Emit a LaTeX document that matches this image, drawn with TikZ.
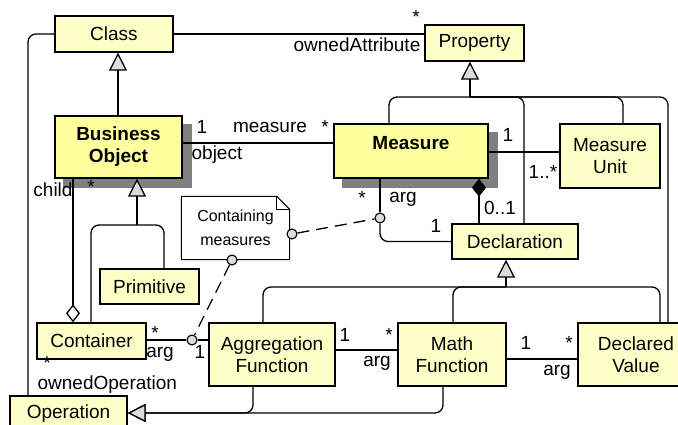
\documentclass[tikz,border=0pt]{standalone}
\usepackage{fontspec}
\setmainfont{Liberation Sans}
\usetikzlibrary{arrows.meta,calc,backgrounds}
\definecolor{clsfill}{RGB}{255,255,200}
\definecolor{keyfill}{RGB}{255,255,160}
\definecolor{shadowgray}{RGB}{128,128,128}
\definecolor{tipgray}{RGB}{220,220,220}
\begin{document}
\begin{tikzpicture}[x=1pt,y=-1pt,line width=1.3pt,
  txt/.style={font=\fontsize{19}{22}\selectfont},
  cls/.style={draw, fill=clsfill, inner sep=0pt, align=center, txt},
  keycls/.style={cls, fill=keyfill, font=\bfseries\fontsize{19}{22}\selectfont},
  notebox/.style={inner sep=0pt, align=center, font=\fontsize{16}{24}\selectfont},
  gen/.style={-{Triangle[length=18pt,width=18pt,fill=tipgray]}},
  comp/.style={-{Diamond[length=18pt,width=14pt,fill=black]}},
  agg/.style={-{Diamond[length=18pt,width=14pt,fill=white]}},
  port/.style={circle, draw, fill=tipgray, minimum size=10pt, inner sep=0pt, line width=1.1pt},
  lbl/.style={inner sep=0pt, txt},
  rc/.style={rounded corners=8pt},
  dsh/.style={dash pattern=on 12pt off 7pt}]
\useasboundingbox (0,0) rectangle (678,425);
% classes
\node[cls, minimum width=118pt, minimum height=36pt] (Class) at (114,34) {Class};
\node[cls, minimum width=99pt, minimum height=36pt] (Prop) at (474.5,43) {Property};
\node[keycls, minimum width=127pt, minimum height=62pt] (BO) at (118.5,147) {Business\\Object};
\node[keycls, minimum width=154pt, minimum height=54pt, text height=14pt, text depth=16pt] (M) at (411,151) {Measure};
\node[cls, minimum width=100pt, minimum height=64pt] (MU) at (610,156) {Measure\\Unit};
\node[cls, minimum width=126pt, minimum height=35pt] (D) at (515,241.5) {Declaration};
\node[notebox, minimum width=107pt, minimum height=62pt] (N) at (235.5,228) {Containing\\measures};
\node[cls, minimum width=99pt, minimum height=35pt] (Prim) at (149.5,286.5) {Primitive};
\node[cls, minimum width=109pt, minimum height=36pt] (Cont) at (91.5,341) {Container};
\node[cls, minimum width=126pt, minimum height=63pt] (AF) at (272,354.5) {Aggregation\\Function};
\node[cls, minimum width=108pt, minimum height=63pt] (MF) at (452,354.5) {Math\\Function};
\node[cls, minimum width=116pt, minimum height=63pt] (DV) at (636,354.5) {Declared\\Value};
\node[cls, minimum width=117pt, minimum height=35pt] (Op) at (68.5,413.5) {Operation};
% note outline
\draw[line width=1.1pt] (N.north west) -- ($(N.north east)+(-13,0)$) -- ($(N.north east)+(0,13)$) -- (N.south east) -- (N.south west) -- cycle;
\draw[line width=1.1pt] ($(N.north east)+(-13,0)$) -- ($(N.north east)+(-13,13)$) -- ($(N.north east)+(0,13)$);
% shadows and background
\begin{scope}[on background layer]
\fill[white] (0,0) rectangle (678,425);
\fill[shadowgray] ($(BO.north west)+(9,9)$) rectangle ($(BO.south east)+(9,9)$);
\fill[shadowgray] ($(M.north west)+(9,9)$) rectangle ($(M.south east)+(9,9)$);
\end{scope}
% ports
\node[port] (p1) at (380,218) {};
\node[port] (p2) at (292,234) {};
\node[port] (p3) at (232,260) {};
\node[port] (p4) at (192,340) {};
% Class - Property
\draw (Class.east) -- (Class.east -| Prop.west);
\node[lbl, anchor=east] (lOA) at (421,45) {ownedAttribute};
\node[lbl] (lOAs) at (416,17) {*};
% Class generalization
\draw[gen] (BO.north -| 118,0) -- (Class.south -| 118,0);
% Class - Operation
\draw[rc] (Class.west) -| (Op.north -| 28,0);
\node[lbl] (lOOs) at (47,363) {*};
\node[lbl, anchor=west] (lOO) at (37,385) {ownedOperation};
% BO - Measure
\draw (BO.east |- 0,143) -- (M.west |- 0,143);
\node[lbl] (lb1) at (202,127) {1};
\node[lbl] (lmeas) at (270,127) {measure};
\node[lbl] (lms) at (325,127) {*};
\node[lbl] (lobj) at (217,155) {object};
% Property generalization
\coordinate (pj) at (470,97);
\draw[gen] (pj) -- (Prop.south -| pj);
\draw[rc] (M.north -| 389,0) |- (pj);
\draw[rc] (pj) -| (D.north -| 524,0);
\draw[rc] (pj) -| (MU.north -| 623,0);
\draw[rc] (pj) -| (DV.north -| 668,0);
% Measure - Measure Unit
\draw (M.east |- 0,152) -- (MU.west |- 0,152);
\node[lbl] (lmu1) at (508,135) {1};
\node[lbl] (lmu2) at (543,172) {1..*};
% composition Measure - Declaration
\draw[comp] (D.north -| 479,0) -- (M.south -| 479,0);
\node[lbl] (l01) at (500,208) {0..1};
% Measure arg
\draw (M.south -| p1) -- (p1);
\draw[rc] (p1) |- (D.west);
\node[lbl] (las) at (362,198) {*};
\node[lbl] (larg) at (403,199) {arg};
\node[lbl] (la1) at (436,226) {1};
% dashed note links
\draw[dsh] (p2) -- (p1);
\draw[dsh] (p3) -- (p4);
% BO generalization
\coordinate (bj) at (137,225);
\draw[gen] (bj) -- (BO.south -| bj);
\draw[rc] (Prim.north -| 164,0) |- (bj);
\draw[rc] (Cont.north -| 91,0) |- (bj);
% child aggregation
\draw[agg] (BO.south -| 73,0) -- (Cont.north -| 73,0);
\node[lbl] (lchild) at (53,190) {child};
\node[lbl] (lchs) at (91,187) {*};
% Container - AF
\draw (Cont.east |- p4) -- (p4) -- (AF.west |- p4);
\node[lbl] (lcs) at (155,333) {*};
\node[lbl] (lcarg) at (160,354) {arg};
\node[lbl] (lc1) at (200,352) {1};
% AF - MF
\draw (AF.east |- 0,350) -- (MF.west |- 0,350);
\node[lbl] (lam1) at (345,335) {1};
\node[lbl] (lams) at (389,335) {*};
\node[lbl] (lamarg) at (377,363) {arg};
% MF - DV
\draw (MF.east |- 0,359) -- (DV.west |- 0,359);
\node[lbl] (lmd1) at (526,343) {1};
\node[lbl] (lmds) at (569,343) {*};
\node[lbl] (lmdarg) at (557,372) {arg};
% Declaration generalization
\coordinate (dj) at (506,287);
\draw[gen] (dj) -- (D.south -| dj);
\draw[rc] (AF.north -| 263,0) |- (dj);
\draw[rc] (MF.north -| 453,0) |- (dj);
\draw[rc] (dj) -| (DV.north -| 660,0);
% Operation generalization
\draw[gen,rc] (AF.south -| 253,0) |- (Op.east |- 0,413);
\draw[gen,rc] (MF.south -| 443,0) |- (Op.east |- 0,413);
\end{tikzpicture}
\end{document}
